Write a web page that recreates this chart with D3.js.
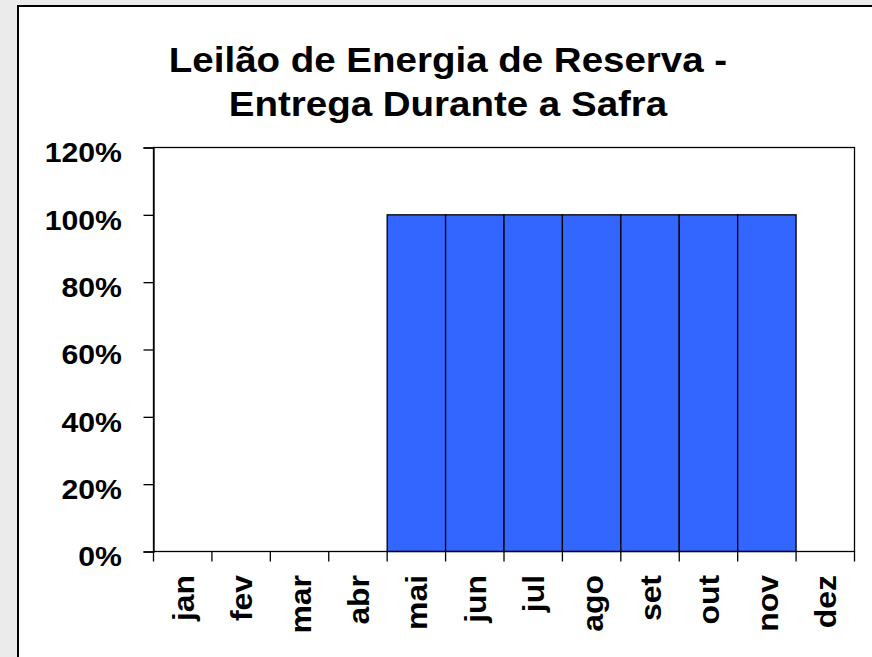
<!DOCTYPE html>
<html><head><meta charset="utf-8">
<script src="https://cdn.jsdelivr.net/npm/d3@7"></script>
<style>body{margin:0;background:#ebebeb;}svg{display:block;}</style>
</head><body>
<script>
const months = ["jan","fev","mar","abr","mai","jun","jul","ago","set","out","nov","dez"];
const values = [0,0,0,0,1,1,1,1,1,1,1,0];
const yTicks = [0,0.2,0.4,0.6,0.8,1.0,1.2];
const titleLines = ["Leilão de Energia de Reserva -","Entrega Durante a Safra"];

const W=872,H=657;
const svg=d3.select("body").append("svg").attr("width",W).attr("height",H);
svg.append("rect").attr("width",W).attr("height",H).attr("fill","#ebebeb");
svg.append("rect").attr("x",18).attr("y",6).attr("width",W+20).attr("height",H+20)
  .attr("fill","#fff").attr("stroke","#000").attr("stroke-width",2);

const L=153.5,R=854.5,T=147.5,B=551.5;
const x=d3.scaleBand().domain(months).range([L,R]).padding(0);
const y=d3.scaleLinear().domain([0,1.2]).range([B,T]);

const font="Arial, 'Liberation Sans', sans-serif";
const SX=1.1;

svg.append("g").selectAll("text").data(titleLines).join("text")
  .attr("transform",(d,i)=>`translate(448,${72+i*44}) scale(${SX},1)`)
  .attr("text-anchor","middle")
  .attr("font-family",font).attr("font-weight","bold").attr("font-size",35).text(d=>d);

// bars
svg.append("g").selectAll("rect").data(months.map((m,i)=>({m,v:values[i]})).filter(d=>d.v>0)).join("rect")
  .attr("x",d=>x(d.m)).attr("width",x.bandwidth())
  .attr("y",d=>y(d.v)).attr("height",d=>B-y(d.v))
  .attr("fill","#3366ff").attr("stroke","#000").attr("stroke-width",1.3);

// plot box
svg.append("rect").attr("x",L).attr("y",T).attr("width",R-L).attr("height",B-T)
  .attr("fill","none").attr("stroke","#000").attr("stroke-width",1.3);

// y axis
const ya=svg.append("g").attr("transform",`translate(${L},0)`)
  .call(d3.axisLeft(y).tickValues(yTicks).tickFormat(d3.format(".0%")).tickSize(10));
ya.select(".domain").attr("stroke-width",1.3);
ya.selectAll("line").attr("stroke-width",1.3);
ya.selectAll("text").remove();
svg.append("g").selectAll("text").data(yTicks).join("text")
  .attr("transform",d=>`translate(122,${y(d)}) scale(1.12,1)`)
  .attr("text-anchor","end").attr("dy","0.55em")
  .attr("font-family",font).attr("font-weight","bold").attr("font-size",27).text(d=>d3.format(".0%")(d));

// x axis ticks at boundaries
const bounds=months.map(m=>x(m)).concat([R]);
svg.append("g").selectAll("line").data(bounds).join("line")
  .attr("x1",d=>d).attr("x2",d=>d).attr("y1",B).attr("y2",B+10)
  .attr("stroke","#000").attr("stroke-width",1.3);

svg.append("g").selectAll("text").data(months).join("text")
  .attr("transform",d=>`translate(${x(d)+x.bandwidth()/2},575) rotate(-90) scale(${SX},1)`)
  .attr("text-anchor","end").attr("dy","0.38em")
  .attr("font-family",font).attr("font-weight","bold").attr("font-size",29).text(d=>d);
</script>
</body></html>
